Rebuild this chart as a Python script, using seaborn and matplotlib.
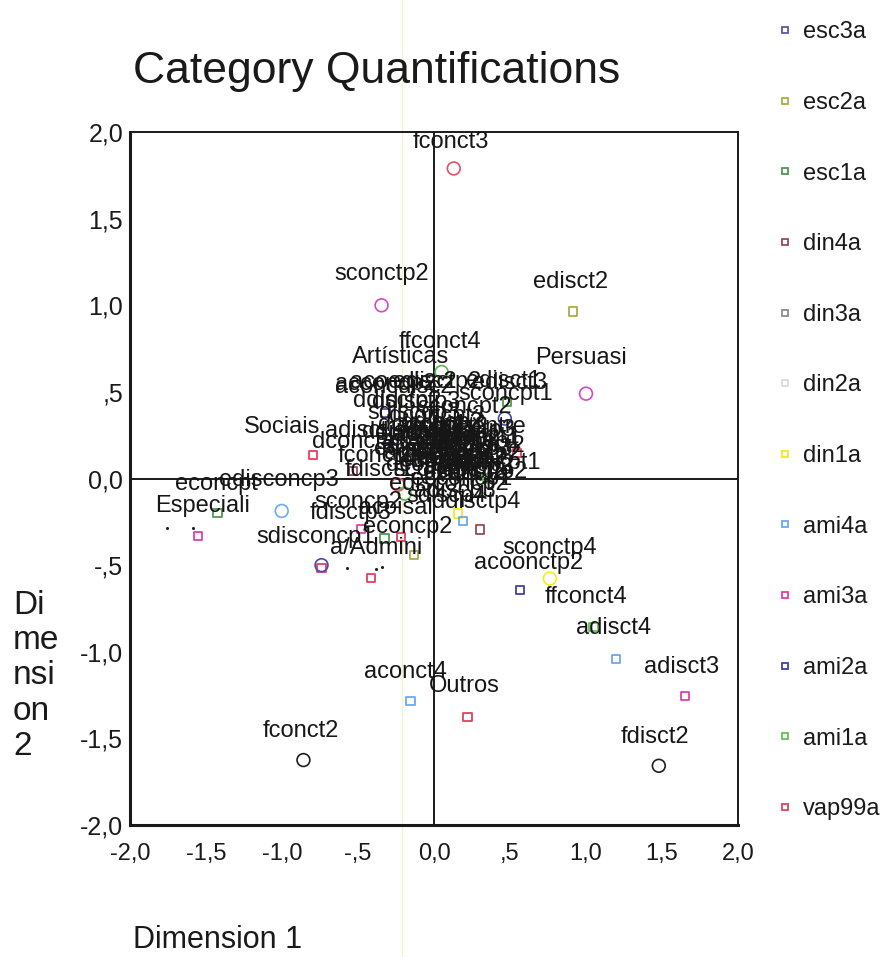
import numpy as np
import pandas as pd
import matplotlib
matplotlib.use("Agg")
import matplotlib.pyplot as plt
from matplotlib.lines import Line2D
import seaborn as sns

# ---- variables shown in the legend (open squares) ----
series_order = ["esc3a", "esc2a", "esc1a", "din4a", "din3a", "din2a",
                "din1a", "ami4a", "ami3a", "ami2a", "ami1a", "vap99a"]
series_colors = ["#5a58a8", "#a8b040", "#4f9a4f", "#9a4a58", "#8c8c8c", "#dcdcdc",
                 "#eeea1c", "#6aa8f0", "#e040a8", "#4040b0", "#62c052", "#e2405e"]

esc3a_x = [-0.32, 0.10];            esc3a_y = [0.38, 0.22]
esc2a_x = [0.914, -0.131, 0.05];    esc2a_y = [0.965, -0.442, 0.28]
esc1a_x = [-1.424, -0.325, 0.48];   esc1a_y = [-0.198, -0.346, 0.44]
din4a_x = [-0.532, 0.301, 0.15];    din4a_y = [0.042, -0.294, 0.12]
din3a_x = [-0.05, 0.25];            din3a_y = [0.20, 0.05]
din2a_x = [-0.15, 0.30];            din2a_y = [0.10, 0.25]
din1a_x = [0.158, -0.10];           din1a_y = [-0.202, 0.30]
ami4a_x = [0.191, 1.197, -0.155];   ami4a_y = [-0.246, -1.04, -1.285]
ami3a_x = [-1.554, 1.653, -0.48];   ami3a_y = [-0.333, -1.256, -0.29]
ami2a_x = [0.567, -0.30];           ami2a_y = [-0.644, 0.18]
ami1a_x = [1.049, 0.35];            ami1a_y = [-0.856, 0.0]
vap99a_x = [-0.796, -0.74, -0.416, 0.22, 0.546, -0.215]
vap99a_y = [0.135, -0.515, -0.573, -1.375, 0.147, -0.337]

# ---- further variables (open circles) ----
circ_x = [0.13, -0.345, 1.0, -0.859, 1.479, 0.762, -1.002, -0.74, -0.237, -0.193, 0.05, 0.466]
circ_y = [1.79, 1.0, 0.49, -1.625, -1.658, -0.577, -0.187, -0.50, -0.035, -0.087, 0.615, 0.346]
circ_group = ["rose", "violet", "violet", "black", "black", "yellow", "sky",
              "indigo", "rose", "green", "green", "indigo"]
circ_palette = {"rose": "#e4506c", "violet": "#d448c4", "black": "#1e1e1e",
                "yellow": "#f2ee1c", "sky": "#6aaaf2", "indigo": "#4848b4",
                "green": "#5cb656"}

# small dots
dot_x = [-1.757, -1.586, -0.572, -0.384, -0.345]
dot_y = [-0.286, -0.286, -0.519, -0.52, -0.51]

# ---- category labels ----
label_names = [
    "fconct3", "sconctp2", "edisct2", "Persuasi", "ffconct4", "Artísticas",
    "acconcp2", "acoedisc2", "aconcdisc2", "edisctp2", "edisct1", "edisct3", "sconcpt1",
    "ddisctp2", "ddisctp3", "sconcpt2", "sdiscop3", "dconcpt3", "sconcpentre", "dcisctp4",
    "Sociais", "adisct1", "dconct4", "sdisct2", "fconct1", "fconcpt1", "fdisct1",
    "aconct2", "aconct3", "adisct2", "econct1", "econct3", "sdisct1", "sdisct3", "fdisct3",
    "edisct4", "sconcp1", "econcp1", "dconct2", "ddisctp1", "aconcp3",
    "sdisctp1", "sdisctp2", "sdisctp3", "aconcp1", "aconcp2", "econcp3", "fconcp2",
    "fdiscp1", "adiscp1", "adiscp2", "ddiscp2", "dconcp1", "dconcp2", "sconct1",
    "aconct1", "econct2", "edisctp1", "adisctp2",
    "edisconcp2", "adiscp3", "sdiscp4", "ecconcp1",
    "econcpt", "edisconcp3", "Especiali", "sconcp2", "ddisctp4", "acoisal", "fdisctp3",
    "econcp2", "sdisconcp1", "a/Admini", "sconctp4", "acoonctp2", "ffconct4", "adisct4",
    "adisct3", "aconct4", "Outros", "fconct2", "fdisct2"]
label_x = [
    0.11, -0.345, 0.90, 0.97, 0.04, -0.22,
    -0.32, -0.20, -0.26, 0.02, 0.46, 0.50, 0.47,
    -0.24, -0.12, 0.20, -0.13, 0.02, 0.18, -0.08,
    -1.00, -0.47, -0.53, 0.36, -0.38, 0.41, -0.36,
    0.00, 0.12, -0.08, 0.15, 0.05, 0.20, -0.12, 0.24,
    -0.15, 0.02, 0.28, 0.08, -0.18, 0.22,
    0.05, 0.15, 0.25, -0.05, 0.10, 0.22, 0.30,
    0.00, 0.12, 0.26, 0.05, -0.02, 0.18, 0.30,
    0.10, 0.20, -0.10, 0.32,
    0.10, 0.14, 0.08, 0.18,
    -1.43, -1.02, -1.52, -0.50, 0.28, -0.25, -0.55,
    -0.17, -0.78, -0.38, 0.76, 0.62, 1.00, 1.18,
    1.63, -0.19, 0.20, -0.875, 1.455]
label_y = [
    1.945, 1.18, 1.135, 0.695, 0.79, 0.70,
    0.545, 0.56, 0.53, 0.555, 0.565, 0.55, 0.49,
    0.445, 0.44, 0.415, 0.38, 0.36, 0.30, 0.31,
    0.30, 0.275, 0.21, 0.185, 0.13, 0.09, 0.05,
    0.25, 0.20, 0.15, 0.14, 0.10, 0.25, 0.22, 0.11,
    0.17, 0.05, 0.21, 0.30, 0.27, 0.06,
    0.27, 0.23, 0.28, 0.19, 0.16, 0.17, 0.14,
    0.12, 0.10, 0.08, 0.32, 0.08, 0.12, 0.24,
    0.22, 0.04, 0.26, 0.04,
    -0.03, -0.07, -0.10, 0.00,
    -0.03, -0.01, -0.16, -0.135, -0.135, -0.17, -0.20,
    -0.28, -0.34, -0.40, -0.40, -0.49, -0.685, -0.86,
    -1.09, -1.115, -1.20, -1.455, -1.49]

tick_values = [-2.0, -1.5, -1.0, -0.5, 0.0, 0.5, 1.0, 1.5, 2.0]
tick_labels = ["-2,0", "-1,5", "-1,0", "-,5", "0,0", ",5", "1,0", "1,5", "2,0"]

# ---- assemble tables ----
sq_x = [esc3a_x, esc2a_x, esc1a_x, din4a_x, din3a_x, din2a_x,
        din1a_x, ami4a_x, ami3a_x, ami2a_x, ami1a_x, vap99a_x]
sq_y = [esc3a_y, esc2a_y, esc1a_y, din4a_y, din3a_y, din2a_y,
        din1a_y, ami4a_y, ami3a_y, ami2a_y, ami1a_y, vap99a_y]
squares = pd.DataFrame({
    "dim1": [v for xs in sq_x for v in xs],
    "dim2": [v for ys in sq_y for v in ys],
    "variable": [name for name, xs in zip(series_order, sq_x) for _ in xs],
})
circles = pd.DataFrame({"dim1": circ_x, "dim2": circ_y, "group": circ_group})
dots = pd.DataFrame({"dim1": dot_x, "dim2": dot_y})
palette = dict(zip(series_order, series_colors))

sns.set_theme(style="white")
plt.rcParams["font.family"] = ["Liberation Sans", "DejaVu Sans"]

fig = plt.figure(figsize=(8.85, 9.57), dpi=100)
ax = fig.add_axes([0.1469, 0.1379, 0.6870, 0.7241])


def hollow(coll, lw):
    fc = coll.get_facecolors()
    coll.set_edgecolors(fc)
    coll.set_facecolors("none")
    coll.set_linewidths(lw)


sns.scatterplot(data=squares, x="dim1", y="dim2", hue="variable",
                hue_order=series_order, palette=palette, marker="s", s=36,
                legend=False, ax=ax, zorder=3)
hollow(ax.collections[-1], 1.3)

sns.scatterplot(data=circles, x="dim1", y="dim2", hue="group",
                palette=circ_palette, marker="o", s=85,
                legend=False, ax=ax, zorder=3)
hollow(ax.collections[-1], 1.2)

sns.scatterplot(data=dots, x="dim1", y="dim2", color="#222222", marker="o",
                s=5, linewidth=0, ax=ax, zorder=3)

for name, lx, ly in zip(label_names, label_x, label_y):
    ax.text(lx, ly, name, ha="center", va="center", fontsize=17,
            color="#161616", zorder=4)

# reference lines through the origin
ax.axhline(0, color="#1a1a1a", lw=1.4, zorder=2)
ax.axvline(0, color="#1a1a1a", lw=1.4, zorder=2)
ax.axvline(-0.21, ymin=-0.2, ymax=1.6, color="#f4f2cc", lw=1.0, zorder=1,
           clip_on=False)

ax.set_xlim(-2, 2)
ax.set_ylim(-2, 2)
ax.set_xticks(tick_values)
ax.set_xticklabels(tick_labels)
ax.set_yticks(tick_values)
ax.set_yticklabels(tick_labels)
ax.tick_params(axis="both", which="major", labelsize=17, colors="#1a1a1a",
               length=4, width=2.5, direction="out")
ax.tick_params(axis="x", pad=9)
ax.tick_params(axis="y", pad=1, labelsize=18)
for side in ["left", "bottom"]:
    ax.spines[side].set_linewidth(2.2)
    ax.spines[side].set_color("#1a1a1a")
for side in ["top", "right"]:
    ax.spines[side].set_linewidth(1.4)
    ax.spines[side].set_color("#1a1a1a")
ax.set_xlabel("")
ax.set_ylabel("")

fig.text(133 / 885, 1 - 72 / 957, "Category Quantifications", fontsize=32,
         ha="left", va="center", color="#1a1a1a")
fig.text(133 / 885, 1 - 940 / 957, "Dimension 1", fontsize=22,
         ha="left", va="center", color="#1a1a1a")
fig.text(13 / 885, 1 - 676 / 957, "Di\nme\nnsi\non\n2", fontsize=24,
         ha="left", va="center", color="#1a1a1a", linespacing=1.18)

handles = [Line2D([], [], ls="none", marker="s", markersize=5,
                  markerfacecolor="none", markeredgecolor=c, markeredgewidth=1.3)
           for c in series_colors]
fig.legend(handles, series_order, loc="upper left",
           bbox_to_anchor=(752 / 885, 1 - 0 / 957), frameon=False,
           fontsize=17, labelspacing=2.06, handlelength=1.0, handletextpad=0.25,
           labelcolor="#1a1a1a")

fig.savefig("out.png", dpi=100, facecolor="white")
